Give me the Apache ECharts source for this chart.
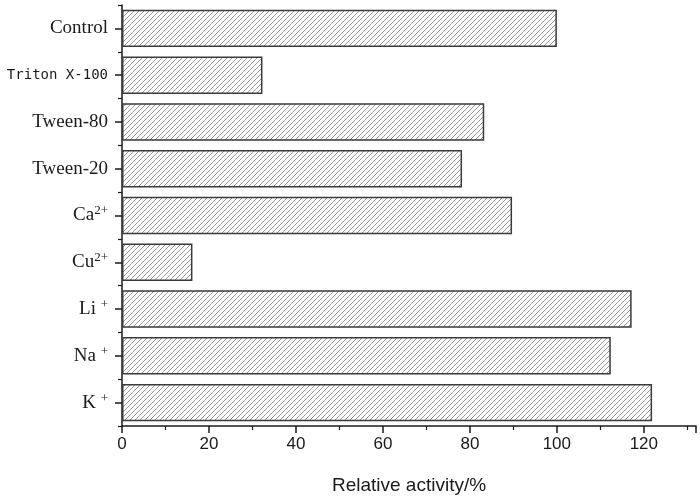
<!DOCTYPE html>
<html>
<head>
<meta charset="utf-8">
<script src="https://cdn.jsdelivr.net/npm/echarts@6/dist/echarts.min.js"></script>
<style>
  html, body { margin: 0; padding: 0; background: #fff; }
  #main { width: 700px; height: 500px; }
</style>
</head>
<body>
<div id="main"></div>
<script>
// categories from bottom to top (category axis on y starts at bottom)
var categories = ['K+', 'Na+', 'Li+', 'Cu2+', 'Ca2+', 'Tween-20', 'Tween-80', 'Triton X-100', 'Control'];
var activity = [121.9, 112.4, 117.2, 16.2, 89.7, 78.2, 83.3, 32.3, 100];
var xTicks = [0, 20, 40, 60, 80, 100, 120];

// 上标标签
var labelRich = {
  'K+': 'K {sup|+}',
  'Na+': 'Na {sup|+}',
  'Li+': 'Li {sup|+}',
  'Cu2+': 'Cu{sup|2+}',
  'Ca2+': 'Ca{sup|2+}',
  'Triton X-100': '{mono|Triton X-100}'
};

// 斜线填充
var hatch = document.createElement('canvas');
hatch.width = 5;
hatch.height = 5;
var ctx = hatch.getContext('2d');
ctx.fillStyle = '#fff';
ctx.fillRect(0, 0, 5, 5);
ctx.strokeStyle = '#9a9a9a';
ctx.lineWidth = 1;
ctx.beginPath();
ctx.moveTo(0, 5); ctx.lineTo(5, 0);
ctx.moveTo(-2.5, 2.5); ctx.lineTo(2.5, -2.5);
ctx.moveTo(2.5, 7.5); ctx.lineTo(7.5, 2.5);
ctx.stroke();

var chart = echarts.init(document.getElementById('main'));
var option = {
  animation: false,
  grid: {
    left: 122,
    right: 4,
    top: 5,
    bottom: 68,
    containLabel: false
  },
  xAxis: {
    type: 'value',
    min: 0,
    max: 132,
    interval: 20,
    name: 'Relative activity/%',
    nameLocation: 'middle',
    nameGap: 50,
    nameTextStyle: {
      fontFamily: 'Liberation Sans',
      fontSize: 19,
      color: '#1a1a1a'
    },
    axisLine: { show: true, lineStyle: { color: '#1a1a1a', width: 1.5 } },
    axisTick: { show: true, inside: false, length: 7, lineStyle: { color: '#1a1a1a', width: 1.5 } },
    minorTick: { show: true, splitNumber: 2, length: 4, lineStyle: { color: '#1a1a1a', width: 1.2 } },
    axisLabel: {
      fontFamily: 'Liberation Sans',
      fontSize: 17,
      color: '#1a1a1a',
      margin: 10,
      showMaxLabel: false,
      formatter: function (v) {
        return xTicks.indexOf(v) >= 0 ? String(v) : '';
      }
    },
    splitLine: { show: false }
  },
  yAxis: [{
    type: 'category',
    data: categories,
    position: 'left',
    axisLine: { show: true, onZero: false, lineStyle: { color: '#1a1a1a', width: 1.5 } },
    axisTick: { show: true, alignWithLabel: true, length: 7, lineStyle: { color: '#1a1a1a', width: 1.5 } },
    axisLabel: {
      margin: 14,
      color: '#1a1a1a',
      fontFamily: 'Liberation Serif',
      fontSize: 19,
      lineHeight: 22,
      formatter: function (v) {
        return labelRich[v] || v;
      },
      rich: {
        sup: {
          fontFamily: 'Liberation Serif',
          fontSize: 13,
          lineHeight: 13,
          verticalAlign: 'top',
          color: '#1a1a1a'
        },
        mono: {
          fontFamily: 'DejaVu Sans Mono',
          fontSize: 14,
          color: '#1a1a1a'
        }
      }
    },
    splitLine: { show: false }
  }, {
    type: 'category',
    data: categories,
    position: 'left',
    axisLine: { show: false },
    axisTick: { show: true, alignWithLabel: false, length: 4, lineStyle: { color: '#1a1a1a', width: 1.2 } },
    axisLabel: { show: false },
    splitLine: { show: false }
  }],
  series: [{
    type: 'bar',
    yAxisIndex: 0,
    data: activity,
    barCategoryGap: '20%',
    itemStyle: {
      color: { image: hatch, repeat: 'repeat' },
      borderColor: '#3a3a3a',
      borderWidth: 1.5
    }
  }]
};
chart.setOption(option);
</script>
</body>
</html>
